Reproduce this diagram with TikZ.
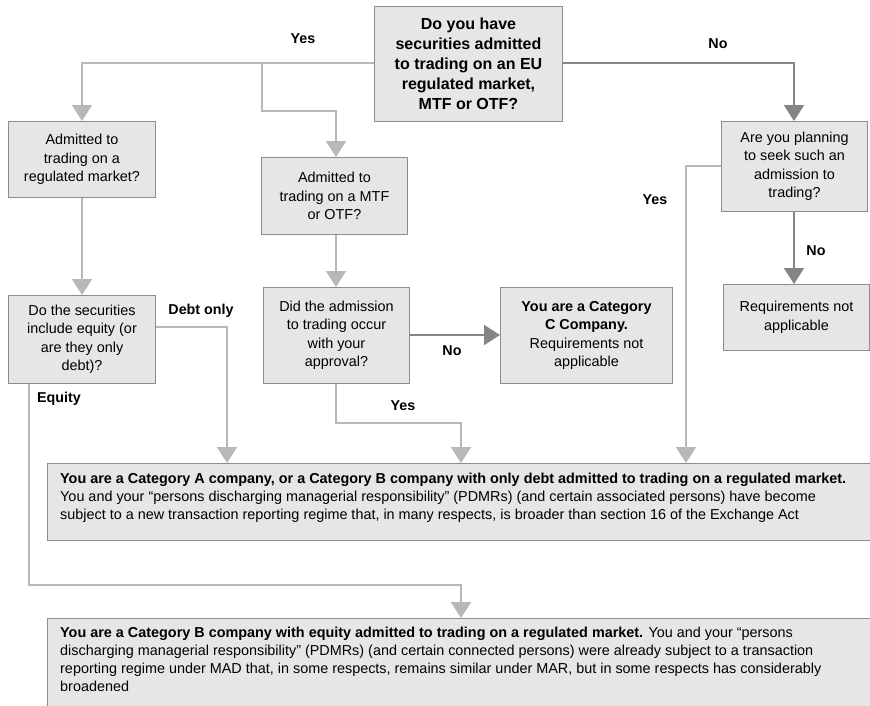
\documentclass[tikz,border=0pt]{standalone}
\usepackage{fontspec}
\setmainfont{Liberation Sans}
\usetikzlibrary{arrows.meta}
\definecolor{boxfill}{HTML}{E6E6E6}
\definecolor{boxline}{HTML}{8C8C8C}
\definecolor{lightln}{HTML}{B8B8B8}
\definecolor{darkln}{HTML}{858585}
\begin{document}
\begin{tikzpicture}[x=1pt,y=-1pt,
  box/.style={draw=boxline,fill=boxfill,line width=1pt,inner sep=0pt,anchor=north west},
  qtext/.style={font=\fontsize{14.4}{18.5}\selectfont,align=center},
  btext/.style={font=\fontsize{14.4}{18}\selectfont,align=left,anchor=north west,inner sep=0pt},
  lbl/.style={font=\fontsize{14.3}{16}\selectfont\bfseries},
  lconn/.style={draw=lightln,line width=2pt,-{Triangle[length=16pt,width=20pt]}},
  dconn/.style={draw=darkln,line width=2pt,-{Triangle[length=16pt,width=20pt]}},
]
\useasboundingbox (0,0) rectangle (870,705);
% boxes
\node[box,minimum width=188pt,minimum height=115pt] (top) at (374,6) {};
\node[font=\fontsize{16}{20}\selectfont\bfseries,align=center] (toptxt) at (top.center) {Do you have\\securities admitted\\to trading on an EU\\regulated market,\\MTF or OTF?};
\node[box,minimum width=147pt,minimum height=76pt] (reg) at (8,121) {};
\node[qtext] (regtxt) at (reg.center) {Admitted to\\trading on a\\regulated market?};
\node[box,minimum width=146pt,minimum height=77pt] (mtf) at (261,157) {};
\node[qtext] (mtftxt) at (mtf.center) {Admitted to\\trading on a MTF\\or OTF?};
\node[box,minimum width=146pt,minimum height=90pt] (plan) at (721,121) {};
\node[qtext] (plantxt) at (plan.center) {Are you planning\\to seek such an\\admission to\\trading?};
\node[box,minimum width=147pt,minimum height=88pt] (eq) at (8,295) {};
\node[qtext] (eqtxt) at (eq.center) {Do the securities\\include equity (or\\are they only\\debt)?};
\node[box,minimum width=146pt,minimum height=96pt] (appr) at (263,287) {};
\node[qtext] (apprtxt) at (appr.center) {Did the admission\\to trading occur\\with your\\approval?};
\node[box,minimum width=172pt,minimum height=96pt] (catc) at (500,287) {};
\node[qtext] (catctxt) at (catc.center) {\textbf{You are a Category}\\\textbf{C Company.}\\Requirements not\\applicable};
\node[box,minimum width=146pt,minimum height=66pt] (na) at (723,284) {};
\node[qtext] (natxt) at (na.center) {Requirements not\\applicable};
\node[box,minimum width=830pt,minimum height=77pt] (cata) at (47,463) {};
\node[btext] (catatxt) at (60,473) {\textbf{You are a Category A company, or a Category B company with only debt admitted to trading on a regulated market.}\\You and your “persons discharging managerial responsibility” (PDMRs) (and certain associated persons) have become\\subject to a new transaction reporting regime that, in many respects, is broader than section 16 of the Exchange Act};
\node[box,minimum width=830pt,minimum height=100pt] (catb) at (47,618) {};
\node[btext] (catbtxt) at (60,627) {\textbf{You are a Category B company with equity admitted to trading on a regulated market.} You and your “persons\\discharging managerial responsibility” (PDMRs) (and certain connected persons) were already subject to a transaction\\reporting regime under MAD that, in some respects, remains similar under MAR, but in some respects has considerably\\broadened};
% coordinates
\coordinate (yb) at (262,63);
% connectors
\draw[lconn] (top.west |- 0,63) -| (reg.north -| 82,0);
\draw[lconn] (yb) -- (262,111) -| (mtf.north -| 336,0);
\draw[dconn] (top.east |- 0,63) -| (plan.north -| 794,0);
\draw[lconn] (reg.south -| 82,0) -- (eq.north -| 82,0);
\draw[lconn] (mtf.south -| 336,0) -- (appr.north -| 336,0);
\draw[lconn] (eq.east |- 0,327) -| (cata.north -| 227,0);
\draw[dconn] (appr.east |- 0,335) -- (catc.west |- 0,335);
\draw[lconn] (appr.south -| 336,0) -- (336,423) -| (cata.north -| 461,0);
\draw[lconn] (plan.west |- 0,166) -| (cata.north -| 686,0);
\draw[dconn] (plan.south -| 794,0) -- (na.north -| 794,0);
\draw[lconn] (eq.south -| 29,0) -- (29,585) -| (catb.north -| 461,0);
% labels
\node[lbl] (lyes1) at (303,39) {Yes};
\node[lbl] (lno1) at (718,44) {No};
\node[lbl] (lyes2) at (655,200) {Yes};
\node[lbl] (lno2) at (816,251) {No};
\node[lbl] (ldebt) at (201,311) {Debt only};
\node[lbl] (lequity) at (59,399) {Equity};
\node[lbl] (lno3) at (452,351) {No};
\node[lbl] (lyes3) at (403,406) {Yes};
\end{tikzpicture}
\end{document}
